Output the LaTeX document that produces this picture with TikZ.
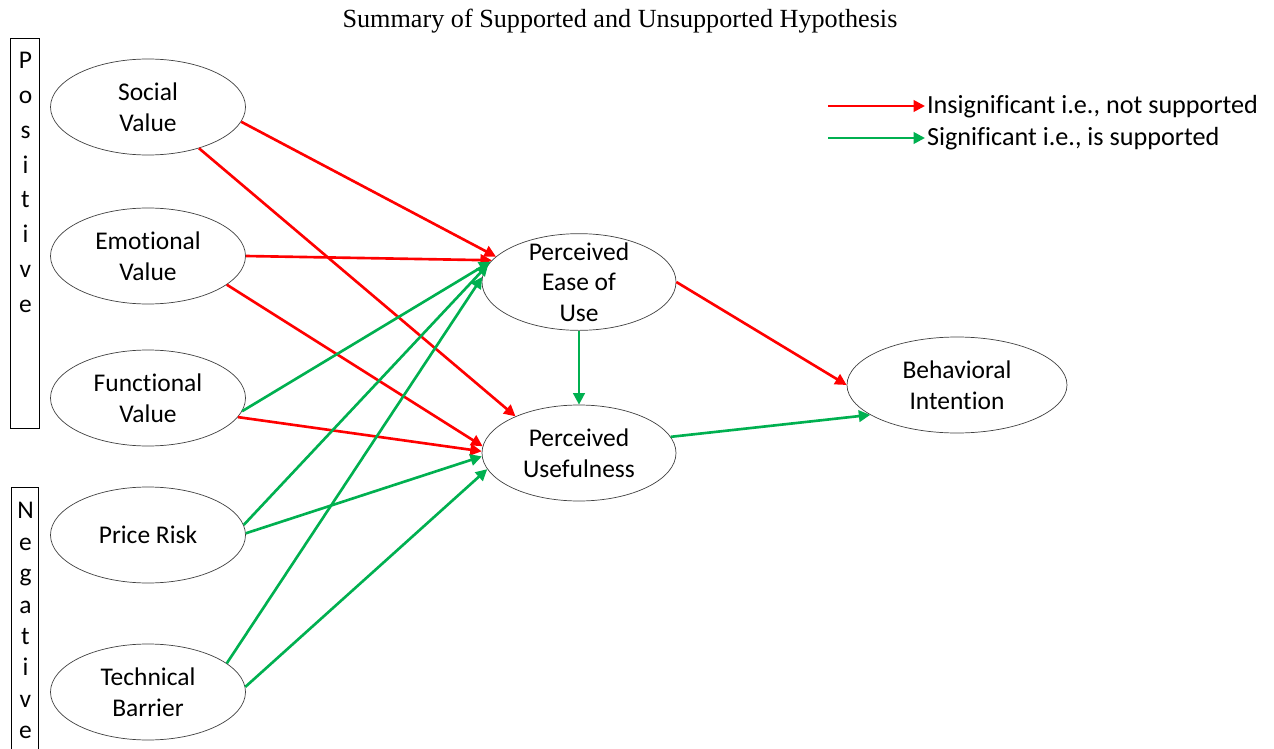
\documentclass[tikz,border=0pt]{standalone}
\usepackage{fontspec}
\setmainfont{Carlito}[Ligatures=NoCommon]
\newfontfamily\titlefont{Liberation Serif}
\usepackage{xcolor}
\usetikzlibrary{arrows.meta, shapes.geometric}

\definecolor{notsupp}{RGB}{255,0,0}
\definecolor{supp}{RGB}{0,176,80}

\tikzset{
    construct/.style={draw=black!75, thin, ellipse, inner sep=0pt, minimum width=3.9cm, minimum height=1.92cm, align=center},
    insig/.style={notsupp, line width=1.5pt},
    sig/.style={supp, line width=1.5pt},
    >={Triangle[length=6.5pt,width=6.5pt]}
}

\begin{document}
\begin{tikzpicture}[font=\fontsize{14.5}{17.5}\selectfont]
        \useasboundingbox (0,0) rectangle (25.48,-14.98);
        \clip (0,0) rectangle (25.48,-14.98);

        \node (title) at (12.4,-0.42) {\titlefont\fontsize{14.9}{17}\selectfont Summary of Supported and Unsupported Hypothesis};

        % side labels
        \node[draw, thin, inner sep=0pt, minimum width=0.58cm, minimum height=7.8cm, anchor=north] (posbox) at (0.49,-0.76) {};
        \node[inner sep=0pt, anchor=north, align=center, font=\fontsize{14.5}{19.8}\selectfont] (postext) at (0.51,-1.04) {P\\o\\s\\i\\t\\i\\v\\e};
        \node[draw, thin, inner sep=0pt, minimum width=0.54cm, minimum height=6cm, anchor=north] (negbox) at (0.49,-9.74) {};
        \node[inner sep=0pt, anchor=north, align=center, font=\fontsize{14.5}{17.9}\selectfont] (negtext) at (0.51,-10.04) {N\\e\\g\\a\\t\\i\\v\\e};

        % constructs
        \node[construct] (sv) at (2.96,-2.14) {Social\\Value};
        \node[construct] (ev) at (2.96,-5.12) {Emotional\\Value};
        \node[construct] (fv) at (2.96,-7.96) {Functional\\Value};
        \node[construct] (pr) at (2.96,-10.70) {Price Risk};
        \node[construct] (tb) at (2.96,-13.84) {Technical\\Barrier};

        \node[construct, minimum width=3.88cm, inner ysep=-0.11cm] (pe) at (11.58,-5.64) {Perceived\\Ease of\\Use};
        \node[construct, minimum width=3.88cm] (pu) at (11.58,-9.06) {Perceived\\Usefulness};
        \node[construct, minimum width=4.4cm] (bi) at (19.14,-7.70) {Behavioral\\Intention};

        % paths
        \draw[insig, ->] (sv.-9) -- (pe.163);
        \draw[insig, ->] (sv.-39) -- (pu.150);
        \draw[insig, ->] (ev.east) -- (pe.166);
        \draw[insig, ->] (ev.-20) -- (pu.176);
        \draw[insig, ->] (fv.-12) -- (pu.179);
        \draw[sig, ->] (fv.-8) -- (pe.167);
        \draw[sig, ->] (pr.6) -- (pe.169);
        \draw[sig, ->] (pr.1) -- (pu.182);
        \draw[sig, ->] (tb.20) -- (pe.177);
        \draw[sig, ->] (tb.3) -- (pu.190);
        \draw[sig, ->] (pe.south) -- (pu.north);
        \draw[insig, ->] (pe.east) -- (bi.west);
        \draw[sig, ->] (pu.10) -- (bi.199);

        % legend
        \coordinate (redstart) at (16.56,-2.12);
        \coordinate (greenstart) at (16.56,-2.76);
        \node[anchor=west, inner sep=1pt, font=\fontsize{14.9}{17.5}\selectfont] (redtext) at (18.5,-2.14) {Insignificant i.e., not supported};
        \node[anchor=west, inner sep=1pt, font=\fontsize{14.9}{17.5}\selectfont] (greentext) at (18.5,-2.78) {Significant i.e., is supported};
        \draw[insig, ->] (redstart) -- (redtext.west |- redstart);
        \draw[sig, ->] (greenstart) -- (greentext.west |- greenstart);
    \end{tikzpicture}
\end{document}
